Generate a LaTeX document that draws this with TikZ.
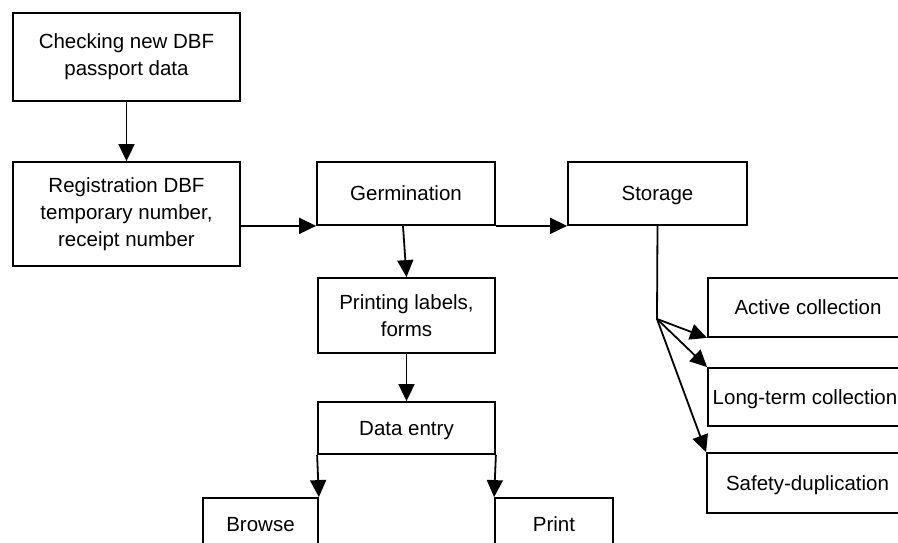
\documentclass[tikz,border=0pt]{standalone}
\usepackage{fontspec}
\setmainfont{Liberation Sans}
\usetikzlibrary{arrows.meta}

\begin{document}
\begin{tikzpicture}[
  x=1pt, y=-1pt,
  % one unit = one pixel of the reference, y runs down:
  every node/.style={font=\fontsize{20.5}{27}\selectfont},
  box/.style={draw, line width=1.8pt, inner sep=0pt, align=center},
  single/.style={text height=14.5pt, text depth=0pt},
  flow/.style={line width=1.8pt, -{Triangle[length=17pt, width=16pt]}}
]
\useasboundingbox (0,0) rectangle (898,543);
\clip (0,0) rectangle (898,543);

\node[box, minimum width=227, minimum height=88] (check) at (126.5,57)
  {Checking new DBF\\passport data};
\node[box, minimum width=227, minimum height=104] (reg) at (126.5,214)
  {Registration DBF\\temporary number,\\receipt number};
\node[box, single, minimum width=178, minimum height=63] (germ) at (406,193.5) {Germination};
\node[box, single, minimum width=179, minimum height=63] (stor) at (657.5,193.5) {Storage};
\node[box, minimum width=177, minimum height=75] (labels) at (406.5,315.5)
  {Printing labels,\\forms};
\node[box, single, minimum width=177, minimum height=52] (entry) at (406.5,428) {Data entry};
\node[box, single, minimum width=115, minimum height=52] (browse) at (260.5,524) {Browse};
\node[box, single, minimum width=118, minimum height=52] (print) at (554,524) {Print};
\node[box, single, minimum width=200, minimum height=59] (active) at (808,307.5) {Active collection};
\node[box, single, minimum width=200, minimum height=58] (longterm) at (808,397)
  {\hspace*{-6pt}Long-term collection};
\node[box, single, minimum width=201, minimum height=60] (safety) at (807.5,483) {Safety-duplication};

\coordinate (hub) at (657,319);

\draw[flow] (check) -- (reg);
\draw[flow] (reg.east |- germ.south west) -- (germ.south west);
\draw[flow] (germ.south east) -- (stor.south west);
\draw[flow] ([xshift=-3]germ.south) -- (labels.north);
\draw[flow] (labels) -- (entry);
\draw[flow] (entry.south west) -- (browse.north east);
\draw[flow] (entry.south east) -- (print.north west);
\draw[line width=1.8pt] (stor.south) -- (hub);
\draw[flow] (hub) -- (active.south west);
\draw[flow] (hub) -- (longterm.north west);
\draw[flow] (hub) -- (safety.north west);
\end{tikzpicture}
\end{document}
